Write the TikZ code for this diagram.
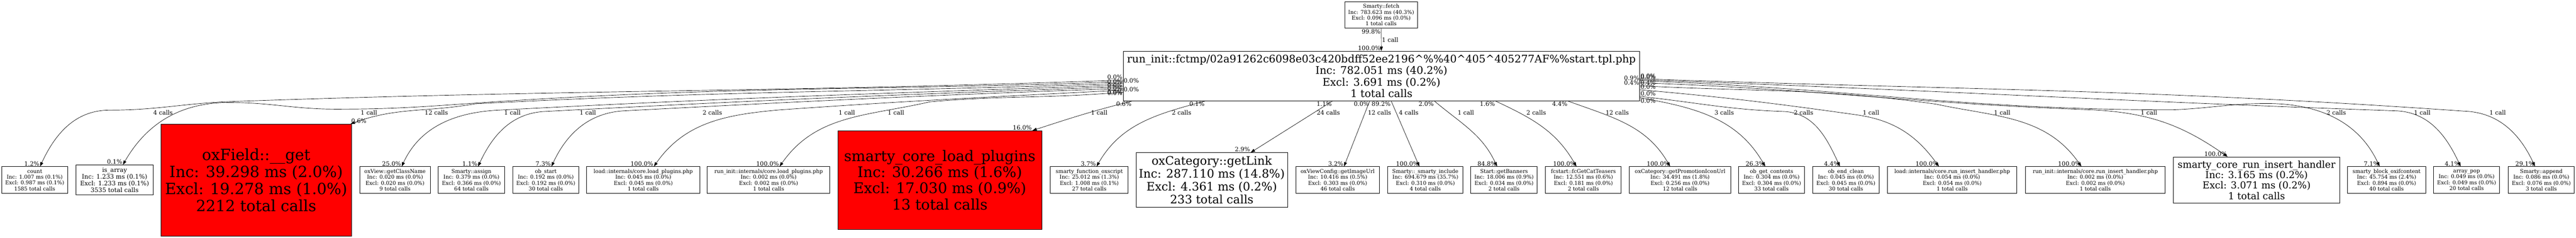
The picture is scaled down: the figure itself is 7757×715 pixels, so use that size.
\documentclass[tikz,border=0pt]{standalone}
\usepackage{fontspec}
\setmainfont{DejaVu Serif}
\usetikzlibrary{arrows.meta}

\tikzset{
  fn/.style={draw, line width=0.4pt, inner sep=0pt, align=center},
  sm/.style={fn, minimum height=0.8cm, font=\fontsize{4.5}{4.98}\selectfont},
  hot/.style={fill=red},
  call/.style={-{Triangle[length=0.13cm,width=0.09cm]}, line width=0.3pt},
  el/.style={font=\fontsize{5.1}{6}\selectfont, inner sep=0.4pt},
}

\begin{document}
\begin{tikzpicture}[x=0.01cm, y=-0.01cm]
\useasboundingbox (0,0) rectangle (7757,715);

% caller and template
\node[sm, minimum width=2.18cm] (fetch) at (4159,45) {Smarty::fetch\\Inc: 783.623 ms (40.3\%)\\Excl: 0.096 ms (0.0\%)\\1 total calls};
\node[fn, minimum width=15.54cm, minimum height=1.49cm, font=\fontsize{9}{9.96}\selectfont] (run) at (4160,228.5)
  {run\_init::fctmp/02a91262c6098e03c420bdff52ee2196\textasciicircum\%\%40\textasciicircum 405\textasciicircum 405277AF\%\%start.tpl.php\\Inc: 782.051 ms (40.2\%)\\Excl: 3.691 ms (0.2\%)\\1 total calls};

% callees
\node[sm, minimum width=1.99cm] (count) at (104.5,541) {count\\Inc: 1.007 ms (0.1\%)\\Excl: 0.987 ms (0.1\%)\\1585 total calls};
\node[fn, minimum width=2.32cm, minimum height=0.9cm, font=\fontsize{5.26}{5.69}\selectfont] (isarray) at (345,541) {is\_array\\Inc: 1.233 ms (0.1\%)\\Excl: 1.233 ms (0.1\%)\\3535 total calls};
\node[fn, hot, minimum width=5.73cm, minimum height=3.36cm, font=\fontsize{13.17}{14.5}\selectfont] (oxfield) at (771.5,541) {oxField::\_\_get\\Inc: 39.298 ms (2.0\%)\\Excl: 19.278 ms (1.0\%)\\2212 total calls};
\node[sm, minimum width=2.13cm] (classname) at (1189.5,541) {oxView::getClassName\\Inc: 0.020 ms (0.0\%)\\Excl: 0.020 ms (0.0\%)\\9 total calls};
\node[sm, minimum width=1.99cm] (assign) at (1419.5,541) {Smarty::assign\\Inc: 0.379 ms (0.0\%)\\Excl: 0.366 ms (0.0\%)\\64 total calls};
\node[sm, minimum width=1.99cm] (obstart) at (1643.5,541) {ob\_start\\Inc: 0.192 ms (0.0\%)\\Excl: 0.192 ms (0.0\%)\\30 total calls};
\node[sm, minimum width=3.40cm] (loadplug) at (1937,541) {load::internals/core.load\_plugins.php\\Inc: 0.045 ms (0.0\%)\\Excl: 0.045 ms (0.0\%)\\1 total calls};
\node[sm, minimum width=3.69cm] (runplug) at (2314.5,541) {run\_init::internals/core.load\_plugins.php\\Inc: 0.002 ms (0.0\%)\\Excl: 0.002 ms (0.0\%)\\1 total calls};
\node[fn, hot, minimum width=6.14cm, minimum height=2.96cm, font=\fontsize{12.5}{13.8}\selectfont] (coreplug) at (2830,541) {smarty\_core\_load\_plugins\\Inc: 30.266 ms (1.6\%)\\Excl: 17.030 ms (0.9\%)\\13 total calls};
\node[sm, minimum width=2.34cm] (oxscript) at (3280,541) {smarty\_function\_oxscript\\Inc: 25.012 ms (1.3\%)\\Excl: 1.008 ms (0.1\%)\\27 total calls};
\node[fn, minimum width=4.56cm, minimum height=1.64cm, font=\fontsize{9.96}{11.1}\selectfont] (getlink) at (3649,541) {oxCategory::getLink\\Inc: 287.110 ms (14.8\%)\\Excl: 4.361 ms (0.2\%)\\233 total calls};
\node[sm, minimum width=2.52cm] (imageurl) at (4028,541) {oxViewConfig::getImageUrl\\Inc: 10.416 ms (0.5\%)\\Excl: 0.303 ms (0.0\%)\\46 total calls};
\node[sm, minimum width=2.26cm] (include) at (4292,541) {Smarty::\_smarty\_include\\Inc: 694.679 ms (35.7\%)\\Excl: 0.310 ms (0.0\%)\\4 total calls};
\node[sm, minimum width=2.00cm] (banners) at (4529,541) {Start::getBanners\\Inc: 18.006 ms (0.9\%)\\Excl: 0.034 ms (0.0\%)\\2 total calls};
\node[sm, minimum width=2.28cm] (teasers) at (4768,541) {fcstart::fcGetCatTeasers\\Inc: 12.551 ms (0.6\%)\\Excl: 0.181 ms (0.0\%)\\2 total calls};
\node[sm, minimum width=3.04cm] (promoicon) at (5059,541) {oxCategory::getPromotionIconUrl\\Inc: 34.491 ms (1.8\%)\\Excl: 0.256 ms (0.0\%)\\12 total calls};
\node[sm, minimum width=1.99cm] (getcontents) at (5334.5,541) {ob\_get\_contents\\Inc: 0.304 ms (0.0\%)\\Excl: 0.304 ms (0.0\%)\\33 total calls};
\node[sm, minimum width=1.99cm] (endclean) at (5558.5,541) {ob\_end\_clean\\Inc: 0.045 ms (0.0\%)\\Excl: 0.045 ms (0.0\%)\\30 total calls};
\node[sm, minimum width=3.89cm] (loadinsert) at (5878.5,541) {load::internals/core.run\_insert\_handler.php\\Inc: 0.054 ms (0.0\%)\\Excl: 0.054 ms (0.0\%)\\1 total calls};
\node[sm, minimum width=4.21cm] (runinsert) at (6309.5,541) {run\_init::internals/core.run\_insert\_handler.php\\Inc: 0.002 ms (0.0\%)\\Excl: 0.002 ms (0.0\%)\\1 total calls};
\node[fn, minimum width=5.00cm, minimum height=1.38cm, font=\fontsize{8.25}{8.96}\selectfont] (coreinsert) at (6795,541) {smarty\_core\_run\_insert\_handler\\Inc: 3.165 ms (0.2\%)\\Excl: 3.071 ms (0.2\%)\\1 total calls};
\node[sm, minimum width=2.35cm] (oxifcontent) at (7186.5,541) {smarty\_block\_oxifcontent\\Inc: 45.754 ms (2.4\%)\\Excl: 0.894 ms (0.0\%)\\40 total calls};
\node[sm, minimum width=1.99cm] (arraypop) at (7427.5,541) {array\_pop\\Inc: 0.049 ms (0.0\%)\\Excl: 0.049 ms (0.0\%)\\20 total calls};
\node[sm, minimum width=1.99cm] (append) at (7652.5,541) {Smarty::append\\Inc: 0.086 ms (0.0\%)\\Excl: 0.076 ms (0.0\%)\\3 total calls};

% call counts
\foreach \x/\lbl [count=\i] in {491/4 calls, 1111/1 call, 1314/12 calls, 1543/1 call, 1770/1 call,
    2145/2 calls, 2550/1 call, 2698/1 call, 3310/1 call, 3558/2 calls, 4000/24 calls, 4154/12 calls,
    4242/4 calls, 4414/1 call, 4626/2 calls, 4870/12 calls, 5192/3 calls, 5431/2 calls, 5634/1 call,
    6029/1 call, 6471/1 call, 7035/2 calls, 7294/1 call, 7521/1 call}
  \node[el] (calls\i) at (\x,338) {\lbl};

\draw[call] (fetch) -- node[el,right]{1 call} node[el,pos=0,below left]{99.8\%} node[el,pos=1,above left]{100.0\%} (run);

% left side
\draw[call] ([yshift=0.63cm]run.south west) to[out=182,in=2] node[el,pos=0,above left]{0.0\%} (700,305)
  to[out=182,in=0] (330,331) to[out=180,in=65] node[el,pos=1,above left]{1.2\%} ([xshift=0.16cm]count.north);
\draw[call] ([yshift=0.58cm]run.south west) to[out=182,in=4] node[el,pos=0,left]{0.0\%} (1400,312)
  to[out=184,in=0] (1012,328) to[out=180,in=0] (690,308) to[out=180,in=60] node[el,pos=1,above left]{0.1\%} ([xshift=0.25cm]isarray.north);
\draw[call] ([yshift=0.53cm]run.south west) to[out=182,in=3] node[el,pos=0,above right]{0.0\%} (1430,312)
  to[out=190,in=20] node[el,pos=1,above right]{0.6\%} ([xshift=-0.03cm]oxfield.north east);
\draw[call] ([yshift=0.48cm]run.south west) to[out=182,in=3] node[el,pos=0,left]{0.0\%} (1500,331)
  to[out=183,in=65] node[el,pos=1,above left]{25.0\%} ([xshift=0.2cm]classname.north);
\draw[call] ([yshift=0.43cm]run.south west) to[out=182,in=3] node[el,pos=0,below right]{0.0\%} (1640,335)
  to[out=183,in=65] node[el,pos=1,above left]{1.1\%} ([xshift=0.2cm]assign.north);
\draw[call] ([yshift=0.38cm]run.south west) to[out=182,in=3] node[el,pos=0,left]{0.0\%} (1880,333)
  to[out=183,in=65] node[el,pos=1,above left]{7.3\%} ([xshift=0.17cm]obstart.north);
\draw[call] ([yshift=0.33cm]run.south west) to[out=183,in=4] node[el,pos=0,below left]{0.0\%} (2350,330)
  to[out=185,in=55] node[el,pos=1,above left]{100.0\%} ([xshift=0.32cm]loadplug.north);
\draw[call] ([yshift=0.27cm]run.south west) to[out=185,in=5] node[el,pos=0,left]{0.0\%} (2800,306)
  to[out=193,in=55] node[el,pos=1,above left]{100.0\%} ([xshift=0.33cm]runplug.north);

% bottom side
\draw[call] ([xshift=0.27cm]run.south west) to[out=194,in=18] node[el,pos=0,below left]{0.6\%} node[el,pos=1,above left]{16.0\%} ([xshift=-0.29cm]coreplug.north east);
\draw[call] ([xshift=2.47cm]run.south west) to[out=195,in=60] node[el,pos=0,below left]{0.1\%} node[el,pos=1,above left]{3.7\%} ([xshift=0.22cm]oxscript.north);
\draw[call] ([xshift=6.30cm]run.south west) -- node[el,pos=0,below left]{1.1\%} node[el,pos=1,above left]{2.9\%} ([xshift=1.17cm]getlink.north);
\draw[call] ([xshift=7.42cm]run.south west) -- node[el,pos=0,below left]{0.0\%} node[el,pos=1,above left]{3.2\%} ([xshift=0.19cm]imageurl.north);
\draw[call] ([xshift=8.07cm]run.south west) -- node[el,pos=0,below left]{89.2\%} node[el,pos=1,above left]{100.0\%} ([xshift=-0.18cm]include.north);
\draw[call] ([xshift=9.37cm]run.south west) to[out=-40,in=115] node[el,pos=0,below left]{2.0\%} node[el,pos=1,above left]{84.8\%} ([xshift=-0.21cm]banners.north);
\draw[call] ([xshift=11.21cm]run.south west) to[out=-25,in=120] node[el,pos=0,below left]{1.6\%} node[el,pos=1,above left]{100.0\%} ([xshift=-0.21cm]teasers.north);
\draw[call] ([xshift=13.39cm]run.south west) to[out=-20,in=120] node[el,pos=0,below left]{4.4\%} node[el,pos=1,above left]{100.0\%} ([xshift=-0.30cm]promoicon.north);

% right side
\draw[call] ([yshift=0.10cm]run.south east) to[out=-10,in=120] node[el,pos=0,below right]{0.0\%} node[el,pos=1,above left]{26.3\%} ([xshift=-0.19cm]getcontents.north);
\draw[call] ([yshift=0.14cm]run.south east) to[out=-6,in=178] node[el,pos=0,above right]{0.0\%} (5370,335)
  to[out=-2,in=115] node[el,pos=1,above left]{4.4\%} ([xshift=-0.18cm]endclean.north);
\draw[call] ([yshift=0.34cm]run.south east) to[out=-5,in=172] node[el,pos=0,above right]{0.0\%} (5590,345)
  to[out=-8,in=126] node[el,pos=1,above left]{100.0\%} ([xshift=-0.40cm]loadinsert.north);
\draw[call] ([yshift=0.46cm]run.south east) to[out=-3,in=172] node[el,pos=0,above right]{0.4\%} (5830,313)
  to[out=-12,in=125] node[el,pos=1,above left]{100.0\%} ([xshift=-0.42cm]runinsert.north);
\draw[call] ([yshift=0.55cm]run.south east) to[out=-2,in=178] node[el,pos=0,left]{0.4\%} (6300,330)
  to[out=-3,in=145] node[el,pos=1,above left]{100.0\%} ([xshift=-0.87cm]coreinsert.north);
\draw[call] ([yshift=0.61cm]run.south east) to[out=-2,in=180] node[el,pos=0,above left]{0.9\%} (6540,330)
  to[out=2,in=180] (6826,311) to[out=0,in=115] node[el,pos=1,above left]{7.1\%} ([xshift=-0.21cm]oxifcontent.north);
\draw[call] ([yshift=0.64cm]run.south east) to[out=-2,in=178] node[el,pos=0,above right]{0.0\%} (7214,333)
  to[out=-2,in=115] node[el,pos=1,above left]{4.1\%} ([xshift=-0.18cm]arraypop.north);
\draw[call] ([yshift=0.67cm]run.south east) to[out=-2,in=176] node[el,pos=0,above right]{0.0\%} (7420,334)
  to[out=-2,in=115] node[el,pos=1,above left]{29.1\%} ([xshift=-0.19cm]append.north);
\end{tikzpicture}
\end{document}
